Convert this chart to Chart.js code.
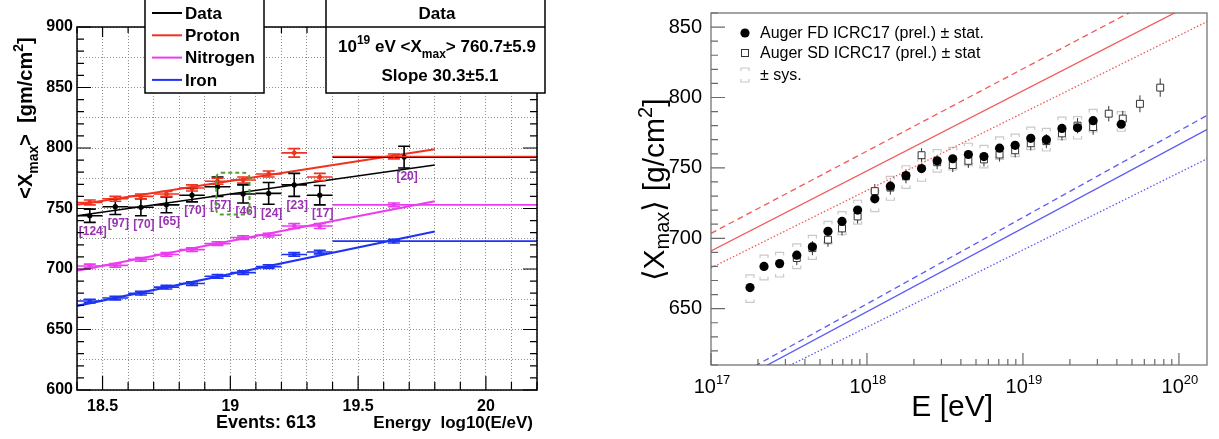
<!DOCTYPE html>
<html>
<head>
<meta charset="utf-8">
<title>Xmax versus energy</title>
<script src="https://cdn.jsdelivr.net/npm/chart.js@4.4.1/dist/chart.umd.min.js"></script>
<style>
  body { margin: 0; background: #fff; }
  #page { position: relative; width: 1219px; height: 439px; overflow: hidden; background: #fff; }
  #leftChart { position: absolute; left: 0; top: 0; }
  #rightChart { position: absolute; left: 600px; top: 0; }
</style>
</head>
<body>
<div id="page">
  <canvas id="leftChart" width="570" height="439"></canvas>
  <canvas id="rightChart" width="619" height="439"></canvas>
</div>
<script>
const FONT = "'Liberation Sans', Arial, Helvetica, sans-serif";
const RED = '#f0321e';
const MAGENTA = '#ec3cf0';
const BLUE = '#1e34f2';
const PURPLE = '#9a30b4';
const GREEN = '#55a032';

// ---- left panel : <Xmax> per bin, data + simulated primaries ----
const lgERange = [18.4, 20.2];
const xmaxRange = [600, 900];
const binLow  = [18.4, 18.5, 18.6, 18.7, 18.8, 18.9, 19.0, 19.1, 19.2, 19.3, 19.4];
const binHigh = [18.5, 18.6, 18.7, 18.8, 18.9, 19.0, 19.1, 19.2, 19.3, 19.4, 20.2];
const dataLgE  = [18.45, 18.55, 18.65, 18.75, 18.85, 18.95, 19.05, 19.15, 19.25, 19.35, 19.68];
const dataXmax = [744, 751.5, 751, 753, 761, 768, 762, 762.5, 769.5, 761, 792.5];
const dataErr  = [5.5, 6.5, 7, 6.5, 5.5, 8, 7.5, 9, 9.5, 8, 9];
const eventCounts = [124, 97, 70, 65, 70, 57, 46, 24, 23, 17, 20];
const simLgE = [18.45, 18.55, 18.65, 18.75, 18.85, 18.95, 19.05, 19.15, 19.25, 19.35, 19.64];
const protonXmax   = [755, 758, 760, 762, 767, 772.5, 773.5, 778.5, 796, 776, 793];
const protonErr    = [2, 2, 2, 2, 2.5, 2.5, 2.5, 2.5, 3.5, 3, 2];
const nitrogenXmax = [702.5, 703, 708, 712, 716, 721, 726, 728, 735.5, 735.5, 753];
const nitrogenErr  = [1.5, 1.5, 1.5, 1.5, 1.5, 1.5, 1.5, 1.5, 2, 2, 1.5];
const ironXmax     = [673.5, 676, 680, 685, 688, 694, 697, 702, 712, 714, 723];
const ironErr      = [1.5, 1.5, 1.5, 1.5, 1.5, 1.5, 1.5, 1.5, 1.5, 1.5, 1.5];
const fitLgE = [18.4, 19.8];
const dataFit     = [744, 786];
const protonFit   = [753, 799];
const nitrogenFit = [698.5, 756];
const ironFit     = [669.5, 731];
const markedLgE  = [18.945, 19.075];
const markedXmax = [745, 779.5];

// ---- right panel : Auger ICRC17 ----
const energyRange = [17, 20.18]; // log10(E/eV)
const yRange = [610, 860];
const yLabels = [650, 700, 750, 800, 850];
const fdLgE  = [17.25, 17.34, 17.44, 17.55, 17.65, 17.75, 17.84, 17.94, 18.05, 18.15, 18.25, 18.35,
                18.45, 18.55, 18.65, 18.75, 18.85, 18.95, 19.05, 19.15, 19.25, 19.35, 19.45, 19.63];
const fdXmax = [665, 680, 682, 688, 694, 705, 712, 720, 728, 737, 744.5, 749.5,
                755, 756.5, 759.5, 758, 764, 766, 771, 770, 778, 778.5, 783.5, 781];
const fdSysUp   = [9, 8, 8, 8, 8, 7, 7, 7, 6.5, 7, 7, 7, 8, 8, 8, 8, 8, 8, 8, 8, 8, 8, 8, 9];
const fdSysDown = [10.5, 9.5, 9.5, 9.5, 9, 9, 9.5, 10, 9, 10, 9, 9, 8, 8, 8, 8, 8, 8, 8, 8, 8, 8, 8, 5];
const sdLgE  = [17.55, 17.65, 17.75, 17.84, 17.94, 18.05, 18.15, 18.25, 18.35, 18.45, 18.55, 18.65,
                18.75, 18.85, 18.95, 19.05, 19.15, 19.25, 19.35, 19.45, 19.55, 19.64, 19.75, 19.88];
const sdXmax = [686, 693, 699, 707, 715.5, 733.5, 736, 744, 759, 754, 752, 755,
                756, 759.5, 762.5, 767.5, 769, 774.5, 780, 779, 788.5, 785, 795.5, 807];
const sdErr  = [2.5, 2.5, 2.5, 2.5, 2.5, 2.5, 2.5, 2.5, 2.5, 2.5, 2.5, 2.5,
                2.5, 2.5, 2.5, 2.5, 2.5, 2.5, 3, 3, 3, 3, 3.5, 4];
const modelLgE = [17, 20.2];
const protonSolid  = [691, 873];
const protonDashed = [703.5, 890.5];
const protonDotted = [679, 855];
const ironSolid    = [588.5, 778.5];
const ironDashed   = [592, 788.5];
const ironDotted   = [582, 757.5];

// ---------- helpers ----------
function richWidth(ctx, parts) {
    let w = 0;
    parts.forEach(p => { ctx.font = p.font; w += ctx.measureText(p.t).width; });
    return w;
}

function drawRich(ctx, parts, x, y, align) {
    const w = richWidth(ctx, parts);
    let cx = align === 'center' ? x - w / 2 : (align === 'right' ? x - w : x);
    ctx.textAlign = 'left';
    ctx.textBaseline = 'alphabetic';
    parts.forEach(p => {
        ctx.font = p.font;
        ctx.fillStyle = p.color || '#000';
        ctx.fillText(p.t, cx, y + (p.dy || 0));
        cx += ctx.measureText(p.t).width;
    });
}

function isMultiple(v, step) {
    return Math.abs(v / step - Math.round(v / step)) < 1e-6;
}

// keep the plot frame where it is, whatever the label sizes
function fixScale(size) {
    return s => {
        if (s.isHorizontal()) s.height = size; else s.width = size;
        s.paddingTop = 0; s.paddingBottom = 0; s.paddingLeft = 0; s.paddingRight = 0;
    };
}

function fitSet(ys, color, width) {
    return {
        type: 'line',
        data: fitLgE.map((x, i) => ({ x: x, y: ys[i] })),
        borderColor: color, borderWidth: width,
        pointRadius: 0, fill: false
    };
}

function pointSet(xs, ys, errs, color, radius, barWidth) {
    return {
        type: 'scatter',
        data: xs.map((x, i) => ({ x: x, y: ys[i], lo: binLow[i], hi: binHigh[i], err: errs[i] })),
        backgroundColor: color, borderColor: color,
        pointRadius: radius, pointBorderWidth: 0,
        withErrors: true, barWidth: barWidth
    };
}

function modelSet(ys, color, dash) {
    return {
        type: 'line',
        data: modelLgE.map((lg, i) => ({ x: Math.pow(10, lg), y: ys[i] })),
        borderColor: color, borderWidth: 1.3, borderDash: dash,
        pointRadius: 0, fill: false
    };
}

// ---------- left panel decoration ----------
const leftDecor = {
    id: 'leftDecor',
    afterDatasetsDraw(chart) {
        const { ctx, chartArea: a, scales: { x, y } } = chart;
        // error bars
        ctx.save();
        ctx.beginPath();
        ctx.rect(a.left, a.top, a.width, a.height);
        ctx.clip();
        chart.data.datasets.forEach(ds => {
            if (!ds.withErrors) return;
            ctx.strokeStyle = ds.borderColor;
            ctx.lineWidth = ds.barWidth;
            ds.data.forEach(p => {
                const px = x.getPixelForValue(p.x), py = y.getPixelForValue(p.y);
                const x1 = x.getPixelForValue(p.lo), x2 = x.getPixelForValue(p.hi);
                const yt = y.getPixelForValue(p.y + p.err), yb = y.getPixelForValue(p.y - p.err);
                ctx.beginPath();
                ctx.moveTo(x1, py); ctx.lineTo(x2, py);
                ctx.moveTo(px, yt); ctx.lineTo(px, yb);
                ctx.moveTo(px - 6, yt); ctx.lineTo(px + 6, yt);
                ctx.moveTo(px - 6, yb); ctx.lineTo(px + 6, yb);
                ctx.stroke();
            });
        });
        ctx.restore();
    },
    afterDraw(chart) {
        const { ctx, chartArea: a, scales: { x, y } } = chart;
        ctx.save();

        // event counts under the data points
        ctx.font = 'bold 12px ' + FONT;
        ctx.fillStyle = PURPLE;
        ctx.textAlign = 'center';
        ctx.textBaseline = 'middle';
        eventCounts.forEach((n, i) => {
            const px = x.getPixelForValue(dataLgE[i]) + 3;
            const py = y.getPixelForValue(dataXmax[i] - dataErr[i]) + 9;
            ctx.fillText('[' + n + ']', px, py);
        });

        // highlighted bins
        const gx1 = x.getPixelForValue(markedLgE[0]), gx2 = x.getPixelForValue(markedLgE[1]);
        const gy1 = y.getPixelForValue(markedXmax[1]), gy2 = y.getPixelForValue(markedXmax[0]);
        ctx.strokeStyle = GREEN;
        ctx.lineWidth = 2;
        ctx.setLineDash([4, 3]);
        ctx.beginPath();
        ctx.roundRect(gx1, gy1, gx2 - gx1, gy2 - gy1, 5);
        ctx.stroke();
        ctx.setLineDash([]);

        // inward ticks
        ctx.strokeStyle = '#000';
        ctx.lineWidth = 1.2;
        ctx.beginPath();
        const nx = Math.round((lgERange[1] - lgERange[0]) / 0.1);
        for (let k = 0; k <= nx; k++) {
            const v = lgERange[0] + k * 0.1;
            const px = x.getPixelForValue(v);
            const big = isMultiple(v, 0.5);
            ctx.moveTo(px, a.bottom); ctx.lineTo(px, a.bottom - (big ? 14 : 8));
            ctx.moveTo(px, a.top); ctx.lineTo(px, a.top + (big ? 10 : 6));
        }
        for (let v = xmaxRange[0]; v <= xmaxRange[1]; v += 10) {
            const py = y.getPixelForValue(v);
            const big = v % 50 === 0;
            ctx.moveTo(a.left, py); ctx.lineTo(a.left + (big ? 14 : 7), py);
            ctx.moveTo(a.right, py); ctx.lineTo(a.right - (big ? 14 : 7), py);
        }
        ctx.stroke();

        // frame
        ctx.lineWidth = 1.5;
        ctx.strokeRect(a.left, a.top, a.width, a.height);

        // legend box
        ctx.fillStyle = '#fff';
        ctx.fillRect(145, -2, 119, 95);
        ctx.strokeRect(145, -2, 119, 95);
        const legendItems = [['Data', '#000'], ['Proton', RED], ['Nitrogen', MAGENTA], ['Iron', BLUE]];
        legendItems.forEach((it, i) => {
            const ly = 13 + i * 22.3;
            ctx.strokeStyle = it[1];
            ctx.lineWidth = 2;
            ctx.beginPath(); ctx.moveTo(152, ly); ctx.lineTo(182, ly); ctx.stroke();
            ctx.fillStyle = '#000';
            ctx.font = 'bold 17px ' + FONT;
            ctx.textAlign = 'left';
            ctx.textBaseline = 'middle';
            ctx.fillText(it[0], 185, ly + 1);
        });

        // stats box
        ctx.strokeStyle = '#000';
        ctx.lineWidth = 1.5;
        ctx.fillStyle = '#fff';
        ctx.fillRect(326, -2, 219, 95);
        ctx.strokeRect(326, -2, 219, 95);
        ctx.beginPath(); ctx.moveTo(326, 27); ctx.lineTo(545, 27); ctx.stroke();
        const b17 = 'bold 17px ' + FONT, b12 = 'bold 12px ' + FONT;
        drawRich(ctx, [{ t: 'Data', font: b17 }], 437, 19, 'center');
        drawRich(ctx, [
            { t: '10', font: b17 }, { t: '19', font: b12, dy: -8 },
            { t: ' eV <X', font: b17 }, { t: 'max', font: b12, dy: 6 },
            { t: '> 760.7\u00b15.9', font: b17 }
        ], 437, 52, 'center');
        drawRich(ctx, [{ t: 'Slope 30.3\u00b15.1', font: b17 }], 440, 81, 'center');

        // axis titles
        const total = eventCounts.reduce((s, n) => s + n, 0);
        drawRich(ctx, [{ t: 'Events: ' + total, font: 'bold 18px ' + FONT }], 216, 428, 'left');
        drawRich(ctx, [{ t: 'Energy  log10(E/eV)', font: 'bold 17px ' + FONT }], 533, 428, 'right');

        ctx.save();
        ctx.translate(32, 118);
        ctx.rotate(-Math.PI / 2);
        const b20 = 'bold 20px ' + FONT, b14 = 'bold 14px ' + FONT;
        drawRich(ctx, [
            { t: '<X', font: b20 }, { t: 'max', font: b14, dy: 6 },
            { t: '>  [gm/cm', font: b20 }, { t: '2', font: b14, dy: -9 }, { t: ']', font: b20 }
        ], 0, 0, 'center');
        ctx.restore();

        ctx.restore();
    }
};

const leftChart = new Chart(document.getElementById('leftChart'), {
    type: 'scatter',
    data: {
        datasets: [
            pointSet(dataLgE, dataXmax, dataErr, '#000', 2.6, 1.6),
            pointSet(simLgE, protonXmax, protonErr, RED, 2.4, 1.6),
            pointSet(simLgE, nitrogenXmax, nitrogenErr, MAGENTA, 2.4, 1.6),
            pointSet(simLgE, ironXmax, ironErr, BLUE, 2.4, 1.6),
            fitSet(dataFit, '#000', 1.4),
            fitSet(protonFit, RED, 2),
            fitSet(nitrogenFit, MAGENTA, 2),
            fitSet(ironFit, BLUE, 2.2)
        ]
    },
    options: {
        responsive: false,
        animation: false,
        events: [],
        layout: { padding: { top: 27, right: 33, left: 0, bottom: 0 } },
        plugins: { legend: { display: false }, tooltip: { enabled: false } },
        scales: {
            x: {
                type: 'linear', min: lgERange[0], max: lgERange[1],
                afterFit: fixScale(49),
                ticks: {
                    stepSize: 0.1, autoSkip: false, maxRotation: 0, padding: 7,
                    color: '#000', font: { family: FONT, size: 16, weight: 'bold' },
                    callback: v => isMultiple(v, 0.5) ? String(Math.round(v * 10) / 10) : ''
                },
                grid: { color: '#8c8c8c', lineWidth: 1, drawTicks: false },
                border: { display: false, dash: [1, 2] }
            },
            y: {
                type: 'linear', min: xmaxRange[0], max: xmaxRange[1],
                afterFit: fixScale(77),
                ticks: {
                    stepSize: 25, autoSkip: false, padding: 4,
                    color: '#000', font: { family: FONT, size: 16, weight: 'bold' },
                    callback: v => v % 50 === 0 ? String(v) : ''
                },
                grid: { color: '#8c8c8c', lineWidth: 1, drawTicks: false },
                border: { display: false, dash: [1, 2] }
            }
        }
    },
    plugins: [leftDecor]
});

// ---------- right panel decoration ----------
const rightDecor = {
    id: 'rightDecor',
    beforeDatasetsDraw(chart) {
        const { ctx, chartArea: a, scales: { x, y } } = chart;
        ctx.save();
        ctx.beginPath();
        ctx.rect(a.left, a.top, a.width, a.height);
        ctx.clip();
        // systematic brackets
        ctx.strokeStyle = '#c9c9c9';
        ctx.lineWidth = 1.2;
        ctx.beginPath();
        fdLgE.forEach((lg, i) => {
            const px = x.getPixelForValue(Math.pow(10, lg));
            const yt = y.getPixelForValue(fdXmax[i] + fdSysUp[i]);
            const yb = y.getPixelForValue(fdXmax[i] - fdSysDown[i]);
            ctx.moveTo(px - 4, yt + 3); ctx.lineTo(px - 4, yt); ctx.lineTo(px + 4, yt); ctx.lineTo(px + 4, yt + 3);
            ctx.moveTo(px - 4, yb - 3); ctx.lineTo(px - 4, yb); ctx.lineTo(px + 4, yb); ctx.lineTo(px + 4, yb - 3);
        });
        ctx.stroke();
        // SD statistical errors
        ctx.strokeStyle = '#333';
        ctx.lineWidth = 1;
        ctx.beginPath();
        sdLgE.forEach((lg, i) => {
            const px = x.getPixelForValue(Math.pow(10, lg));
            ctx.moveTo(px, y.getPixelForValue(sdXmax[i] + sdErr[i] + 2.5));
            ctx.lineTo(px, y.getPixelForValue(sdXmax[i] - sdErr[i] - 2.5));
        });
        ctx.stroke();
        ctx.restore();
    },
    afterDraw(chart) {
        const { ctx, chartArea: a, scales: { x, y } } = chart;
        ctx.save();

        // frame and inward ticks
        ctx.strokeStyle = '#6a6a6a';
        ctx.lineWidth = 1.2;
        ctx.strokeRect(a.left, a.top, a.width, a.height);
        ctx.beginPath();
        for (let v = yRange[0]; v <= yRange[1]; v += 10) {
            const py = y.getPixelForValue(v);
            ctx.moveTo(a.left, py); ctx.lineTo(a.left + (v % 50 === 0 ? 14 : 7), py);
        }
        for (let n = Math.floor(energyRange[0]); n <= Math.floor(energyRange[1]); n++) {
            for (let k = 1; k <= 9; k++) {
                const lg = n + Math.log10(k);
                if (lg < energyRange[0] || lg > energyRange[1]) continue;
                const px = x.getPixelForValue(k * Math.pow(10, n));
                ctx.moveTo(px, a.bottom); ctx.lineTo(px, a.bottom - (k === 1 ? 12 : 6));
            }
        }
        ctx.stroke();

        // x tick labels 10^n
        const f20 = '20px ' + FONT, f13 = '13px ' + FONT;
        for (let n = Math.ceil(energyRange[0]); n <= Math.floor(energyRange[1]); n++) {
            const px = x.getPixelForValue(Math.pow(10, n));
            drawRich(ctx, [{ t: '10', font: f20 }, { t: String(n), font: f13, dy: -9 }], px + 1, a.bottom + 28, 'center');
        }

        // axis titles
        const f30 = '30px ' + FONT, f20s = '20px ' + FONT;
        drawRich(ctx, [{ t: 'E [eV]', font: f30 }], 393, 416, 'right');
        ctx.save();
        ctx.translate(64, 190);
        ctx.rotate(-Math.PI / 2);
        drawRich(ctx, [
            { t: '\u27e8X', font: f30 }, { t: 'max', font: f20s, dy: 5 },
            { t: '\u27e9 [g/cm', font: f30 }, { t: '2', font: f20s, dy: -12 }, { t: ']', font: f30 }
        ], 0, 0, 'center');
        ctx.restore();

        // legend
        const lx = a.left + 34;
        const tx = a.left + 49;
        ctx.fillStyle = '#000';
        ctx.beginPath(); ctx.arc(lx, 33, 4.6, 0, Math.PI * 2); ctx.fill();
        ctx.strokeStyle = '#333';
        ctx.lineWidth = 1;
        ctx.fillStyle = '#fff';
        ctx.fillRect(lx - 3.5, 49.5, 7, 7);
        ctx.strokeRect(lx - 3.5, 49.5, 7, 7);
        ctx.strokeStyle = '#c9c9c9';
        ctx.lineWidth = 1.2;
        ctx.beginPath();
        ctx.moveTo(lx - 4, 71); ctx.lineTo(lx - 4, 68); ctx.lineTo(lx + 4, 68); ctx.lineTo(lx + 4, 71);
        ctx.moveTo(lx - 4, 79); ctx.lineTo(lx - 4, 82); ctx.lineTo(lx + 4, 82); ctx.lineTo(lx + 4, 79);
        ctx.stroke();
        ctx.fillStyle = '#000';
        ctx.font = '16px ' + FONT;
        ctx.textAlign = 'left';
        ctx.textBaseline = 'middle';
        ctx.fillText('Auger FD ICRC17 (prel.) \u00b1 stat.', tx, 34);
        ctx.fillText('Auger SD ICRC17 (prel.) \u00b1 stat', tx, 54);
        ctx.fillText('\u00b1 sys.', tx, 76);

        ctx.restore();
    }
};

const rightChart = new Chart(document.getElementById('rightChart'), {
    type: 'scatter',
    data: {
        datasets: [
            {
                data: fdLgE.map((lg, i) => ({ x: Math.pow(10, lg), y: fdXmax[i] })),
                pointStyle: 'circle', pointRadius: 4.6, pointBorderWidth: 0,
                backgroundColor: '#000', borderColor: '#000'
            },
            {
                data: sdLgE.map((lg, i) => ({ x: Math.pow(10, lg), y: sdXmax[i] })),
                pointStyle: 'rect', pointRadius: 4.9, pointBorderWidth: 1,
                backgroundColor: '#fff', borderColor: '#333'
            },
            modelSet(protonSolid, '#f25a5a', []),
            modelSet(protonDashed, '#f25a5a', [6, 4]),
            modelSet(protonDotted, '#f25a5a', [1.5, 2]),
            modelSet(ironSolid, '#5a5af5', []),
            modelSet(ironDashed, '#5a5af5', [6, 4]),
            modelSet(ironDotted, '#5a5af5', [1.5, 2])
        ]
    },
    options: {
        responsive: false,
        animation: false,
        events: [],
        layout: { padding: { top: 13, right: 12, left: 0, bottom: 0 } },
        plugins: { legend: { display: false }, tooltip: { enabled: false } },
        scales: {
            x: {
                type: 'logarithmic',
                min: Math.pow(10, energyRange[0]), max: Math.pow(10, energyRange[1]),
                afterFit: fixScale(74),
                ticks: { display: false },
                grid: { display: false },
                border: { display: false }
            },
            y: {
                type: 'linear', min: yRange[0], max: yRange[1],
                afterFit: fixScale(111),
                afterBuildTicks: s => { s.ticks = yLabels.map(v => ({ value: v })); },
                ticks: {
                    autoSkip: false, padding: 9,
                    color: '#000', font: { family: FONT, size: 20 },
                    callback: v => String(v)
                },
                grid: { display: false, drawTicks: false },
                border: { display: false }
            }
        }
    },
    plugins: [rightDecor]
});
</script>
</body>
</html>
